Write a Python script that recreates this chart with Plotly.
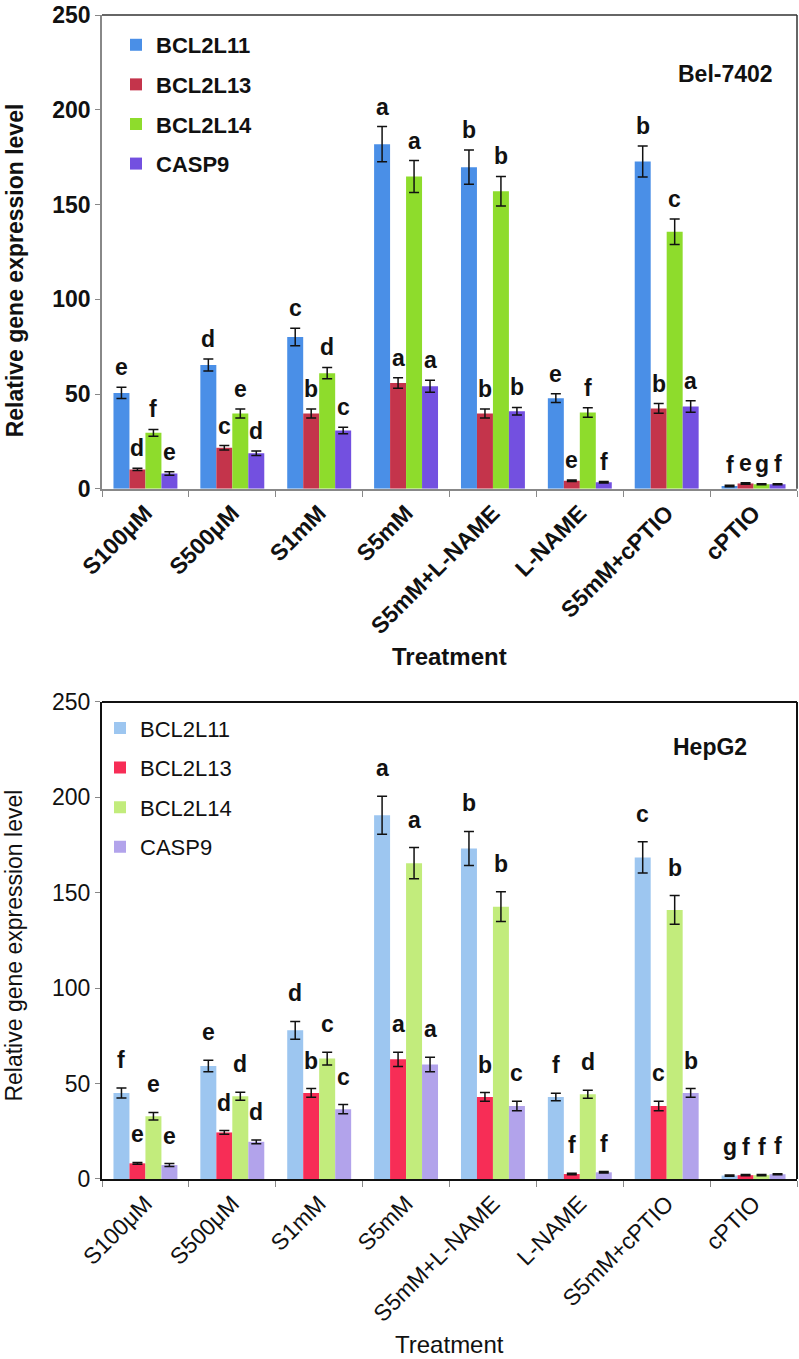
import plotly.graph_objects as go

categories = ["S100μM", "S500μM", "S1mM", "S5mM", "S5mM+L-NAME", "L-NAME", "S5mM+cPTIO", "cPTIO"]
genes = ["BCL2L11", "BCL2L13", "BCL2L14", "CASP9"]

# Bel-7402
bel_bcl2l11 = [50.6, 65.3, 80.1, 181.8, 169.7, 47.8, 172.7, 1.5]
bel_bcl2l11_err = [3.0, 3.2, 4.6, 9.3, 9.0, 2.3, 8.2, 0.4]
bel_bcl2l13 = [10.2, 21.6, 39.7, 55.8, 39.7, 4.2, 42.4, 2.8]
bel_bcl2l13_err = [0.6, 1.2, 2.4, 2.8, 2.4, 0.4, 2.6, 0.4]
bel_bcl2l14 = [29.5, 39.7, 61.0, 164.8, 157.0, 40.2, 135.6, 2.4]
bel_bcl2l14_err = [1.8, 2.4, 3.0, 8.4, 7.8, 2.5, 6.7, 0.3]
bel_casp9 = [8.1, 18.8, 30.8, 54.1, 40.9, 3.4, 43.4, 2.4]
bel_casp9_err = [0.9, 1.2, 1.7, 3.2, 2.0, 0.4, 3.0, 0.3]
bel_letters_bcl2l11 = ["e", "d", "c", "a", "b", "e", "b", "f"]
bel_letters_bcl2l13 = ["d", "c", "b", "a", "b", "e", "b", "e"]
bel_letters_bcl2l14 = ["f", "e", "d", "a", "b", "f", "c", "g"]
bel_letters_casp9 = ["e", "d", "c", "a", "b", "f", "a", "f"]

# HepG2
hep_bcl2l11 = [45.1, 59.2, 77.9, 190.6, 173.2, 43.0, 168.5, 1.8]
hep_bcl2l11_err = [2.6, 3.0, 4.7, 10.0, 8.9, 2.0, 8.2, 0.3]
hep_bcl2l13 = [8.2, 24.4, 45.1, 62.7, 43.0, 2.6, 38.3, 2.0]
hep_bcl2l13_err = [0.5, 1.0, 2.3, 3.7, 2.3, 0.4, 2.5, 0.3]
hep_bcl2l14 = [32.9, 43.4, 63.1, 165.5, 142.7, 44.4, 141.0, 2.0]
hep_bcl2l14_err = [2.0, 2.1, 3.3, 8.2, 7.8, 2.1, 7.5, 0.3]
hep_casp9 = [7.3, 19.5, 36.6, 60.0, 38.3, 3.5, 45.1, 2.5]
hep_casp9_err = [0.8, 1.0, 2.4, 3.8, 2.5, 0.4, 2.3, 0.3]
hep_letters_bcl2l11 = ["f", "e", "d", "a", "b", "f", "c", "g"]
hep_letters_bcl2l13 = ["e", "d", "b", "a", "b", "f", "c", "f"]
hep_letters_bcl2l14 = ["e", "d", "c", "a", "b", "d", "b", "f"]
hep_letters_casp9 = ["e", "d", "c", "a", "c", "f", "b", "f"]

bel_colors = ["#4A8FE7", "#C4344B", "#8EDC2C", "#7350E0"]
hep_colors = ["#9DC6F0", "#F72D56", "#C2EC7C", "#B2A3EB"]

FONT = "Liberation Sans, Arial, sans-serif"

bel_vals = [bel_bcl2l11, bel_bcl2l13, bel_bcl2l14, bel_casp9]
bel_errs = [bel_bcl2l11_err, bel_bcl2l13_err, bel_bcl2l14_err, bel_casp9_err]
bel_lets = [bel_letters_bcl2l11, bel_letters_bcl2l13, bel_letters_bcl2l14, bel_letters_casp9]
hep_vals = [hep_bcl2l11, hep_bcl2l13, hep_bcl2l14, hep_casp9]
hep_errs = [hep_bcl2l11_err, hep_bcl2l13_err, hep_bcl2l14_err, hep_casp9_err]
hep_lets = [hep_letters_bcl2l11, hep_letters_bcl2l13, hep_letters_bcl2l14, hep_letters_casp9]

BARGAP = 0.264
group_w = 1 - BARGAP
bar_w = group_w / len(genes)

fig = go.Figure()
annotations = []

for panel, (vals, errs, lets, colors, xa, ya, leg, shift) in enumerate([
    (bel_vals, bel_errs, bel_lets, bel_colors, "x", "y", "legend", 5),
    (hep_vals, hep_errs, hep_lets, hep_colors, "x2", "y2", "legend2", 13),
]):
    for g, gene in enumerate(genes):
        fig.add_trace(go.Bar(
            x=categories, y=vals[g], name=gene,
            marker=dict(color=colors[g], line=dict(width=0)),
            error_y=dict(type="data", array=errs[g], visible=True,
                         color="#111111", thickness=1.5, width=5),
            xaxis=xa, yaxis=ya, legend=leg, legendgroup=f"{leg}_{gene}",
        ))
        offset = -group_w / 2 + bar_w * (g + 0.5)
        for i, cat in enumerate(categories):
            annotations.append(dict(
                x=i + offset, y=vals[g][i] + errs[g][i], xref=xa, yref=ya,
                text=f"<b>{lets[g][i]}</b>", showarrow=False,
                yanchor="bottom", xanchor="center", yshift=shift,
                font=dict(family=FONT, size=23, color="#111111"),
            ))

H, W = 1359, 799
ml, mr, mt, mb = 102, 2, 12, 180
ph = H - mt - mb
top_dom = [(1179 - 487) / ph, 1.0]
bot_dom = [0.0, (1179 - 700.7) / ph]

def py(pix):
    return (1179 - pix) / ph

def px(pix):
    return (pix - ml) / (W - ml - mr)

def label(xp, yp, text, size=23, angle=0):
    return dict(x=px(xp), y=py(yp), xref="paper", yref="paper", text=text,
                xanchor="center", yanchor="middle", textangle=angle,
                showarrow=False, font=dict(family=FONT, size=size, color="#111111"))

annotations += [
    label(725, 71, "<b>Bel-7402</b>"),
    label(710, 746, "<b>HepG2</b>"),
    label(15, 268, "<b>Relative gene expression level</b>", angle=-90),
    label(14, 945, "Relative gene expression level", angle=-90),
    label(450, 655, "<b>Treatment</b>", size=24),
    label(450, 1345, "Treatment", size=24),
]

shapes = [
    dict(type="line", xref="x domain", yref="y domain", x0=0, x1=1, y0=1, y1=1,
         line=dict(color="#333333", width=1.5)),
    dict(type="line", xref="x domain", yref="y domain", x0=1, x1=1, y0=0, y1=1,
         line=dict(color="#333333", width=1.5)),
    dict(type="line", xref="x2 domain", yref="y2 domain", x0=0, x1=1, y0=1, y1=1,
         line=dict(color="#111111", width=2)),
    dict(type="line", xref="x2 domain", yref="y2 domain", x0=1, x1=1, y0=0, y1=1,
         line=dict(color="#111111", width=2)),
]

xcommon = dict(type="category", range=[-0.5, len(categories) - 0.5], tickangle=-45,
               ticks="outside", ticklen=6, tickson="boundaries", showgrid=False,
               zeroline=False, showline=True)
ycommon = dict(range=[0, 250], dtick=50, ticks="outside", ticklen=5, showgrid=False,
               zeroline=False, showline=True)

fig.update_layout(
    width=W, height=H,
    margin=dict(l=ml, r=mr, t=mt, b=mb, pad=0),
    paper_bgcolor="white", plot_bgcolor="white",
    barmode="group", bargap=BARGAP, bargroupgap=0,
    font=dict(family=FONT, color="#111111"),
    xaxis=dict(**xcommon, domain=[0, 1], anchor="y",
               linecolor="#888888", tickcolor="#888888", linewidth=1.5,
               tickfont=dict(family=FONT, size=23, color="#111111", weight="bold")),
    yaxis=dict(**ycommon, domain=top_dom, anchor="x",
               linecolor="#888888", tickcolor="#888888", linewidth=1.5,
               tickfont=dict(family=FONT, size=23, color="#111111", weight="bold")),
    xaxis2=dict(**xcommon, domain=[0, 1], anchor="y2",
                linecolor="#111111", tickcolor="#888888", linewidth=2,
                tickfont=dict(family=FONT, size=23, color="#111111")),
    yaxis2=dict(**ycommon, domain=bot_dom, anchor="x2",
                linecolor="#111111", tickcolor="#888888", linewidth=2,
                tickfont=dict(family=FONT, size=23, color="#111111")),
    legend=dict(x=px(116), y=py(21), xanchor="left", yanchor="top",
                bgcolor="rgba(0,0,0,0)", tracegroupgap=8,
                font=dict(family=FONT, size=22, color="#111111", weight="bold")),
    legend2=dict(x=px(100), y=py(706), xanchor="left", yanchor="top",
                 bgcolor="rgba(0,0,0,0)", tracegroupgap=8,
                 font=dict(family=FONT, size=22, color="#111111")),
    annotations=annotations,
    shapes=shapes,
)

fig.write_html("out.html", config={"displayModeBar": False},
               post_script="document.body.style.margin='0';document.body.style.padding='0';")
